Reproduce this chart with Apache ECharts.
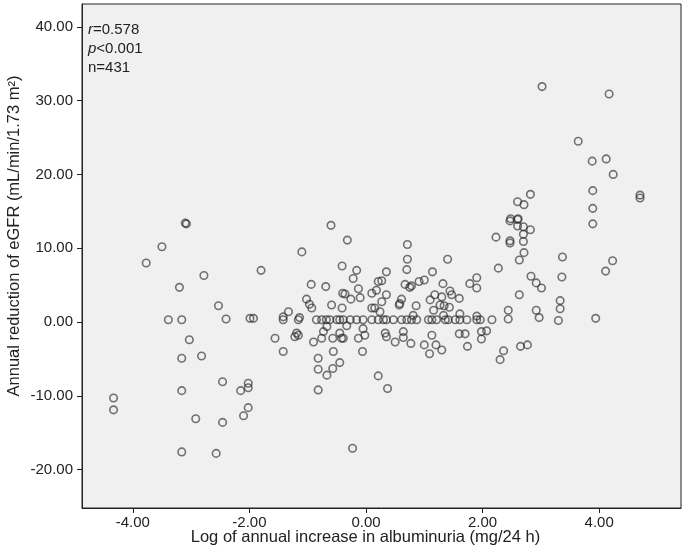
<!DOCTYPE html>
<html><head><meta charset="utf-8">
<script src="https://cdn.jsdelivr.net/npm/echarts@6/dist/echarts.min.js"></script>
<style>html,body{margin:0;padding:0;background:#fff}#c{width:693px;height:547px}</style>
</head><body><div id="c"></div>
<script>
// ---- data (x = log annual increase in albuminuria, y = annual reduction of eGFR) ----
const xTicks = [-4, -2, 0, 2, 4];
const yTicks = [-20, -10, 0, 10, 20, 30, 40];

const leftPoints = [
  [-4.33,-10.3],[-4.33,-11.9],[-3.10,13.4],[-3.08,13.3],[-3.50,10.2],[-3.77,8.0],[-2.78,6.3],
  [-3.20,4.7],[-2.53,2.2],[-3.39,0.3],[-3.16,0.3],[-2.40,0.4],[-1.99,0.5],[-3.03,-2.4],
  [-3.16,-4.9],[-2.82,-4.6],[-2.46,-8.1],[-2.15,-9.3],[-2.02,-8.3],[-2.02,-8.9],[-3.16,-9.3],
  [-2.92,-13.1],[-2.46,-13.6],[-2.02,-11.6],[-2.10,-12.7],[-3.16,-17.6],[-2.57,-17.8]
];
const midPoints = [
  [-0.60,13.1],[-0.32,11.1],[-1.10,9.5],[-1.80,7.0],[-0.41,7.6],[-0.16,7.0],[-0.22,5.9],
  [-0.94,5.1],[-0.69,4.8],[-0.13,4.5],[-0.40,3.9],[-0.36,3.8],[-0.26,3.1],[-0.10,3.3],
  [0.10,3.9],[0.21,5.5],[-1.02,3.1],[-0.97,2.4],[-0.93,1.9],[-0.59,2.3],[-0.41,1.9],
  [-1.33,1.4],[-1.42,0.7],[-1.14,0.6],[-1.93,0.5],[0.10,1.9],
  [-1.19,-1.5],[-1.22,-2.0],[-1.16,-1.8],[-1.56,-2.2],[-1.42,-4.0],[-0.90,-2.7],[-0.76,-2.2],
  [-0.73,-1.3],[-0.67,-0.6],[-0.57,-2.2],[-0.56,-4.0],[-0.45,-1.5],[-0.42,-2.2],[-0.39,-2.2],
  [-0.33,-0.5],[-0.13,-2.2],[-0.05,-0.9],[-0.02,-1.8],[-0.06,-4.0],[-0.82,-4.9],[-0.82,-6.4],
  [-0.67,-7.2],[-0.57,-6.3],[-0.45,-5.5],[-0.82,-9.2],[-0.23,-17.1]
];
const zeroRowX = [
  -1.42,-1.16,-0.85,-0.76,-0.68,-0.62,-0.50,-0.45,-0.39,-0.27,-0.16,-0.05,0.10,0.21,
  0.30,0.35,0.47,0.61,0.70,0.78,0.87,1.07,1.13,1.21,1.36,1.41,1.53,1.61,1.73,1.90,1.96,2.16
];
const zeroRowY = 0.3;
const centerRightPoints = [
  [0.71,10.5],[0.71,8.5],[0.70,7.1],[1.40,8.5],[2.23,11.5],[2.27,7.3],[0.35,6.8],[1.14,6.8],
  [0.27,5.6],[0.67,5.1],[0.75,4.7],[0.78,4.9],[0.91,5.5],[1.00,5.7],[1.32,5.2],[1.78,5.2],
  [1.90,6.0],[1.90,4.6],[0.18,4.3],[0.35,3.7],[0.61,3.1],[0.58,2.5],[0.57,2.3],[1.18,3.7],
  [1.30,3.4],[1.44,4.2],[1.47,3.7],[1.60,3.2],[1.10,3.0],[1.27,2.3],[1.34,2.2],[0.86,2.2],
  [1.16,1.6],[1.43,2.0],[0.27,2.75],[0.15,1.9],[0.24,1.4],[1.33,0.9],[1.61,1.1],[1.90,0.8],
  [0.81,0.9],[0.33,-1.5],[0.35,-2.0],[0.50,-2.7],[0.64,-1.3],[0.64,-2.1],[0.77,-2.9],
  [1.00,-3.1],[1.09,-4.3],[1.13,-1.8],[1.20,-3.1],[1.30,-3.8],[1.60,-1.6],[1.70,-1.6],
  [1.74,-3.3],[1.98,-1.3],[2.07,-1.2],[1.98,-2.3],[2.30,-5.1],[0.21,-7.3],[0.37,-9.0]
];
const rightPoints = [
  [3.02,31.9],[4.17,30.9],[3.64,24.5],[3.88,21.8],[4.12,22.1],[4.24,20.0],[3.89,17.8],
  [4.70,17.2],[4.70,16.8],[2.82,17.3],[2.60,16.3],[2.71,15.9],[3.89,15.4],[2.48,14.0],
  [2.61,14.0],[3.89,13.3],[2.47,13.7],[2.60,13.9],[2.60,13.0],[2.70,12.9],[2.70,11.9],
  [2.82,12.5],[2.47,11.0],[2.47,10.7],[2.70,10.9],[2.71,9.4],[2.63,8.4],[3.37,8.8],
  [2.83,6.2],[2.92,5.3],[3.01,4.6],[3.36,6.1],[4.23,8.3],[4.11,6.9],[2.63,3.7],[3.33,2.9],
  [3.33,1.8],[2.44,1.6],[2.44,0.4],[2.92,1.6],[2.97,0.6],[3.30,0.2],[3.94,0.5],
  [2.36,-3.9],[2.65,-3.3],[2.77,-3.1]
];

const allPoints = leftPoints.concat(midPoints, centerRightPoints, rightPoints,
  zeroRowX.map(x => [x, zeroRowY]));

const font = '"Liberation Sans", Arial, sans-serif';
const chart = echarts.init(document.getElementById('c'), null, {renderer: 'canvas'});
chart.setOption({
  animation: false,
  backgroundColor: '#ffffff',
  title: {
    left: 88, top: 20, padding: 0,
    text: '{i|r}=0.578\n{i|p}<0.001\nn=431',
    textStyle: {
      fontFamily: font, fontSize: 15, fontWeight: 'normal', color: '#222', lineHeight: 19,
      rich: { i: { fontFamily: font, fontSize: 15, fontStyle: 'italic', color: '#222', lineHeight: 19 } }
    }
  },
  grid: {
    left: 82, top: 4, width: 599, height: 504,
    outerBoundsMode: 'none', containLabel: false,
    show: true, backgroundColor: '#f0f0f0', borderColor: '#222', borderWidth: 1
  },
  xAxis: {
    type: 'value', min: -4.871, max: 5.403,
    name: 'Log of annual increase in albuminuria (mg/24 h)',
    nameLocation: 'middle', nameGap: 21, nameMoveOverlap: false,
    nameTextStyle: { fontFamily: font, fontSize: 16.5, color: '#222', padding: [0, 32, 0, 0] },
    axisLine: { show: true, onZero: false, lineStyle: { color: '#222', width: 1 } },
    axisTick: { show: true, length: 5, customValues: xTicks, lineStyle: { color: '#222' } },
    axisLabel: { customValues: xTicks, formatter: v => v.toFixed(2), fontFamily: font, fontSize: 15, color: '#222', margin: 7 },
    splitLine: { show: false }
  },
  yAxis: {
    type: 'value', min: -25.2, max: 43.09,
    name: 'Annual reduction of eGFR (mL/min/1.73 m²)',
    nameLocation: 'middle', nameGap: 59, nameMoveOverlap: false,
    nameTextStyle: { fontFamily: font, fontSize: 16.5, color: '#222', padding: [0, 0, 0, 40] },
    axisLine: { show: true, onZero: false, lineStyle: { color: '#222', width: 1 } },
    axisTick: { show: true, length: 5, customValues: yTicks, lineStyle: { color: '#222' } },
    axisLabel: { customValues: yTicks, formatter: v => v.toFixed(2), fontFamily: font, fontSize: 15, color: '#222', margin: 9 },
    splitLine: { show: false }
  },
  series: [{
    type: 'scatter',
    data: allPoints,
    symbol: 'circle',
    symbolSize: 7.5,
    itemStyle: { color: 'rgba(0,0,0,0)', borderColor: 'rgba(40,40,40,0.8)', borderWidth: 1.6 },
    emphasis: { disabled: true }
  }]
});
</script></body></html>
